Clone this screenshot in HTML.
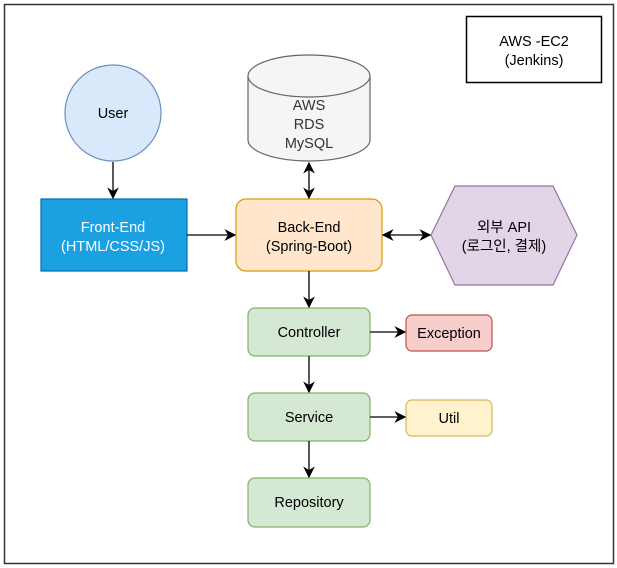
<!DOCTYPE html>
<html><head><style>body{margin:0;background:#fff}svg{display:block}</style></head><body>
<svg width="617" height="568" viewBox="0 0 617 568" xmlns="http://www.w3.org/2000/svg" font-family="Liberation Sans, Noto Sans CJK KR, sans-serif" font-size="14.5" text-anchor="middle">
<defs><marker id="a" viewBox="0 0 10 10" refX="9" refY="5" markerWidth="9" markerHeight="9" orient="auto-start-reverse"><path d="M0,0 L10,5 L0,10 L3,5z" fill="#000"/></marker></defs>
<rect x="4.5" y="4.5" width="609" height="559" fill="#fff" stroke="#333" stroke-width="1.5"/>
<rect x="466.5" y="16.5" width="135" height="66" fill="#fff" stroke="#000" stroke-width="1.5"/>
<text x="534" y="46">AWS -EC2</text><text x="534" y="65">(Jenkins)</text>
<circle cx="113" cy="113" r="48" fill="#dae8fc" stroke="#6c8ebf" stroke-width="1.2"/>
<text x="113" y="118">User</text>
<path d="M248,76 L248,140 A61,21 0 0 0 370,140 L370,76" fill="#f5f5f5" stroke="#666" stroke-width="1.2"/>
<ellipse cx="309" cy="76" rx="61" ry="21" fill="#f5f5f5" stroke="#666" stroke-width="1.2"/>
<g fill="#333"><text x="309" y="110">AWS</text><text x="309" y="129">RDS</text><text x="309" y="148">MySQL</text></g>
<rect x="41" y="199" width="146" height="72" fill="#1ba1e2" stroke="#006eaf" stroke-width="1.2"/>
<g fill="#fff"><text x="113" y="232">Front-End</text><text x="113" y="251">(HTML/CSS/JS)</text></g>
<rect x="236" y="199" width="146" height="72" rx="10" fill="#ffe6cc" stroke="#d79b00" stroke-width="1.2"/>
<text x="309" y="232">Back-End</text><text x="309" y="251">(Spring-Boot)</text>
<polygon points="431,235 455,186 553,186 577,235 553,285 455,285" fill="#e1d5e7" stroke="#9673a6" stroke-width="1.2"/>
<text x="504" y="232">외부 API</text><text x="504" y="251">(로그인, 결제)</text>
<g stroke="#82b366" stroke-width="1.2" fill="#d5e8d4">
<rect x="248" y="308" width="122" height="48" rx="7"/><rect x="248" y="393" width="122" height="48" rx="7"/><rect x="248" y="478" width="122" height="49" rx="7"/></g>
<text x="309" y="337">Controller</text><text x="309" y="422">Service</text><text x="309" y="507">Repository</text>
<rect x="406" y="315" width="86" height="36" rx="6" fill="#f8cecc" stroke="#b85450" stroke-width="1.2"/>
<text x="449" y="338">Exception</text>
<rect x="406" y="400" width="86" height="36" rx="6" fill="#fff2cc" stroke="#d6b656" stroke-width="1.2"/>
<text x="449" y="423">Util</text>
<g stroke="#000" stroke-width="1.3" fill="none" marker-end="url(#a)">
<line x1="113" y1="162" x2="113" y2="198"/>
<line x1="187" y1="235" x2="235" y2="235"/>
<line x1="309" y1="163" x2="309" y2="198" marker-start="url(#a)"/>
<line x1="383" y1="235" x2="430" y2="235" marker-start="url(#a)"/>
<line x1="309" y1="271" x2="309" y2="307"/>
<line x1="370" y1="332" x2="405" y2="332"/>
<line x1="309" y1="356" x2="309" y2="392"/>
<line x1="370" y1="417" x2="405" y2="417"/>
<line x1="309" y1="441" x2="309" y2="477"/>
</g>
</svg>
</body></html>
